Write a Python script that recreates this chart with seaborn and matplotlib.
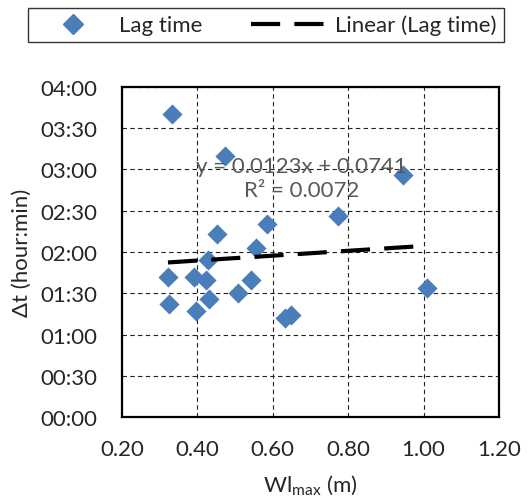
import numpy as np
import pandas as pd
import matplotlib.pyplot as plt
import matplotlib.ticker as mticker
from matplotlib.lines import Line2D
import seaborn as sns

# peak water level (m) and lag time (hh:mm)
wl_max = [0.334, 0.474, 0.945, 0.774, 0.584, 0.453, 0.555, 0.429,
          0.322, 0.390, 0.424, 0.541, 0.508, 0.432, 0.326, 0.396,
          0.632, 0.648, 1.008]
lag_time = ["03:40", "03:10", "02:56", "02:26", "02:20", "02:13", "02:03", "01:54",
            "01:42", "01:42", "01:40", "01:40", "01:30", "01:26", "01:22", "01:17",
            "01:12", "01:14", "01:34"]

# Excel trendline (y in days)
slope = 0.0123
intercept = 0.0741
r2 = 0.0072


def to_days(s):
    h, m = s.split(":")
    return (int(h) * 60 + int(m)) / 1440.0


df = pd.DataFrame({"wl": wl_max, "lag": [to_days(t) for t in lag_time]})
xs = np.array([df["wl"].min(), df["wl"].max()])
trend = pd.DataFrame({"wl": xs, "lag": slope * xs + intercept})

sns.set_style("white")
plt.rcParams["font.family"] = ["Lato", "DejaVu Sans"]
fs = 16

fig = plt.figure(figsize=(5.28, 5.02), dpi=100)
ax = fig.add_axes([0.231, 0.167, 0.714, 0.658])

blue = "#4a7ebb"
sns.scatterplot(data=df, x="wl", y="lag", marker="D", s=105, color=blue,
                linewidth=0, ax=ax, zorder=3)
sns.lineplot(data=trend, x="wl", y="lag", color="black", linewidth=3,
             ax=ax, zorder=4)
ax.lines[-1].set_dashes((7, 3.4))

ax.set_xlim(0.2, 1.2)
ax.set_ylim(0, 4 / 24)
ax.xaxis.set_major_locator(mticker.MultipleLocator(0.2))
ax.xaxis.set_major_formatter(mticker.FormatStrFormatter("%.2f"))
ax.yaxis.set_major_locator(mticker.MultipleLocator(0.5 / 24))


def hhmm(v, pos):
    mins = int(round(v * 1440))
    return f"{mins // 60:02d}:{mins % 60:02d}"


ax.yaxis.set_major_formatter(mticker.FuncFormatter(hhmm))
ax.grid(True, color="#222222", linestyle=(0, (4, 3)), linewidth=0.8)
ax.tick_params(axis="y", length=0, labelsize=fs, pad=18)
ax.tick_params(axis="x", length=0, labelsize=fs, pad=16)
for sp in ax.spines.values():
    sp.set_color("black")
    sp.set_linewidth(1.6)

ax.set_xlabel(r"Wl$_\mathregular{max}$ (m)", fontsize=fs, labelpad=10)
ax.set_ylabel("Δt (hour:min)", fontsize=fs, labelpad=6)

ax.text(0.676, 0.1205, f"y = {slope}x + {intercept}\nR² = {r2}", color="#595959",
        fontsize=fs, ha="center", va="center", linespacing=1.25, zorder=5)

handles = [Line2D([], [], marker="D", linestyle="none", color=blue, markersize=10),
           Line2D([], [], color="black", linewidth=3, dashes=(7, 3.4))]
fig.legend(handles, ["Lag time", "Linear (Lag time)"], loc="center",
           bbox_to_anchor=(0.503, 0.948), ncol=2, fontsize=fs, frameon=True,
           fancybox=False, edgecolor="black", handlelength=3.5, handletextpad=0.3,
           columnspacing=2.2, borderpad=0.3, borderaxespad=0)

fig.savefig("out.png", dpi=100)
